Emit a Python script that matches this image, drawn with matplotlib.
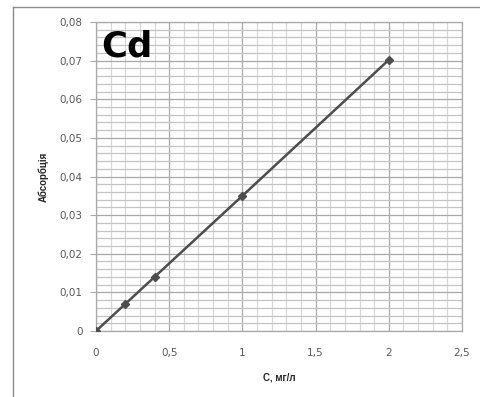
import matplotlib
matplotlib.use("Agg")
import matplotlib.pyplot as plt
from matplotlib.lines import Line2D
import numpy as np

conc = [0, 0.2, 0.4, 1.0, 2.0]
absorb = [0, 0.007, 0.014, 0.035, 0.0702]
xticks = [0, 0.5, 1, 1.5, 2, 2.5]
yticks = [0, 0.01, 0.02, 0.03, 0.04, 0.05, 0.06, 0.07, 0.08]
xlabels = ["0", "0,5", "1", "1,5", "2", "2,5"]
ylabels = ["0", "0,01", "0,02", "0,03", "0,04", "0,05", "0,06", "0,07", "0,08"]

W, H = 481, 397
fig = plt.figure(figsize=(W / 100, H / 100), dpi=100)
fig.patch.set_facecolor("white")
ax = fig.add_axes([96 / W, (H - 331) / H, (462 - 96) / W, (331 - 22) / H])

ax.set_xlim(0, 2.5)
ax.set_ylim(0, 0.08)
ax.set_xticks(xticks)
ax.set_xticklabels(xlabels)
ax.set_yticks(yticks)
ax.set_yticklabels(ylabels)
ax.set_xticks(np.arange(0, 2.51, 0.1), minor=True)
ax.set_yticks(np.arange(0, 0.0801, 0.002), minor=True)

ax.xaxis.grid(True, which="minor", color="#d8d8d8", linewidth=0.9)
ax.yaxis.grid(True, which="minor", color="#c4c4c4", linewidth=0.9)
ax.grid(which="major", color="#a8a8a8", linewidth=0.9)
ax.set_axisbelow(True)

for s in ax.spines.values():
    s.set_color("#a8a8a8")
    s.set_linewidth(0.9)

ax.tick_params(axis="x", which="both", length=0, pad=12.5, labelsize=7.5, labelcolor="#595959")
ax.tick_params(axis="y", which="major", length=4, color="#a8a8a8", pad=5.8, labelsize=7.5, labelcolor="#595959")
ax.tick_params(axis="y", which="minor", length=0)
for lab in ax.get_xticklabels() + ax.get_yticklabels():
    lab.set_fontfamily("DejaVu Sans")

ax.plot(conc, absorb, color="#4d4d4d", linewidth=1.8, marker="D", markersize=4.5,
        markerfacecolor="#4d4d4d", markeredgecolor="#4d4d4d", zorder=3)

ax.set_xlabel("С, мг/л", fontsize=7, fontweight="bold", color="#262626", labelpad=10,
              fontfamily="Liberation Sans")
ax.set_ylabel("Абсорбція", fontsize=7, fontweight="bold", color="#262626", labelpad=8,
              fontfamily="Liberation Sans")

ax.text(0.015, 0.975, "Cd", transform=ax.transAxes, fontsize=25.5, fontweight="bold",
        fontfamily="DejaVu Sans", color="black", va="top", ha="left")

# outer frame lines
fig.add_artist(Line2D([13 / W, 13 / W], [0, 1 - 7 / H], transform=fig.transFigure,
                      color="#8c8c8c", linewidth=1.0))
fig.add_artist(Line2D([13 / W, 1], [1 - 7 / H, 1 - 7 / H], transform=fig.transFigure,
                      color="#8c8c8c", linewidth=1.0))

fig.savefig("out.png", dpi=100)
